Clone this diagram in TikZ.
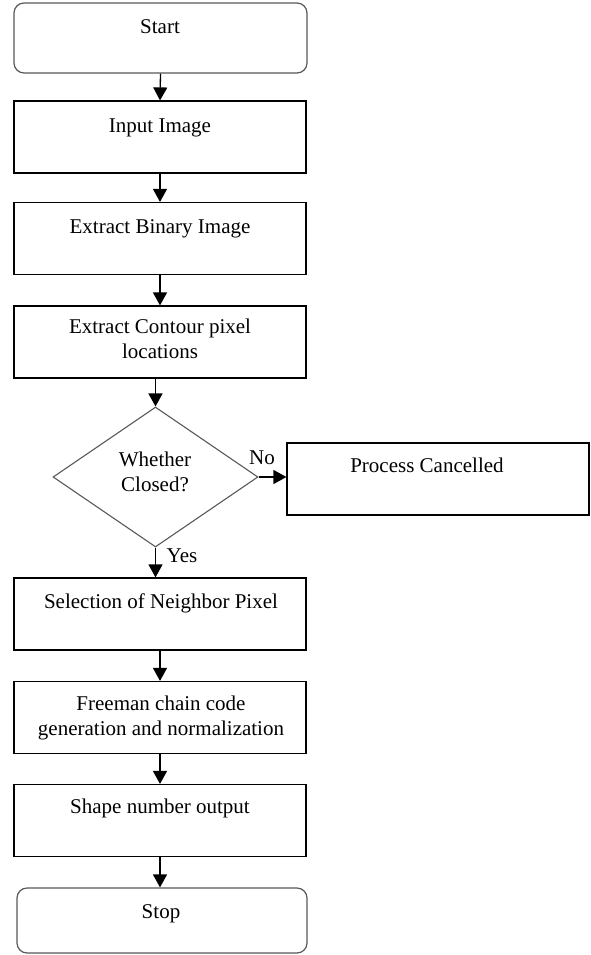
\documentclass[tikz,border=0pt]{standalone}
\usepackage{fontspec}
\setmainfont{Liberation Serif}
\usetikzlibrary{shapes.geometric,arrows.meta}
\begin{document}
\begin{tikzpicture}[x=1pt,y=-1pt,
  every node/.style={font=\fontsize{21}{24.5}\selectfont},
  procbox/.style={draw=black, line width=1.2pt, rectangle, minimum width=292pt, minimum height=72pt, inner sep=0pt},
  termbox/.style={draw=black!65, line width=1.2pt, rectangle, rounded corners=10pt, inner sep=0pt},
  decbox/.style={draw=black!65, line width=1.1pt, diamond, inner sep=0pt, minimum width=205pt, minimum height=140pt},
  lbl/.style={inner sep=0pt, align=center, anchor=base},
  flow/.style={line width=1.3pt, -{Triangle[width=14pt,length=13pt]}}]
\useasboundingbox (0,0) rectangle (590,955);
\fill[white] (0,0) rectangle (590,955);

% boxes
\node[termbox, minimum width=293pt, minimum height=70pt] (start) at (160.5,38) {};
\node[procbox] (input) at (160,137) {};
\node[procbox] (binary) at (160,238.5) {};
\node[procbox] (contour) at (160,342) {};
\node[decbox] (closed) at (155.5,477) {};
\node[procbox, minimum width=302pt] (cancel) at (438,479) {};
\node[procbox] (select) at (160,614) {};
\node[procbox] (freeman) at (160,717.5) {};
\node[procbox] (shape) at (160,820.5) {};
\node[termbox, minimum width=290pt, minimum height=65pt] (stop) at (162,920.5) {};

% texts (base anchor: last line's baseline)
\node[lbl] (tstart) at (160,34) {Start};
\node[lbl] (tinput) at (160,132) {Input Image};
\node[lbl] (tbinary) at (160,233) {Extract Binary Image};
\node[lbl] (tcontour) at (160,358) {Extract Contour pixel\\locations};
\node[lbl] (tclosed) at (155,491) {Whether\\Closed?};
\node[lbl] (tcancel) at (427,472) {Process Cancelled};
\node[lbl] (tselect) at (161,608) {Selection of Neighbor Pixel};
\node[lbl] (tfreeman) at (161,735) {Freeman chain code\\generation and normalization};
\node[lbl] (tshape) at (160,813) {Shape number output};
\node[lbl] (tstop) at (161,918) {Stop};

% connectors
\draw[flow] (start.south) -- (input.north);
\draw[flow] (input.south) -- (binary.north);
\draw[flow] (binary.south) -- (contour.north);
\draw[flow] (closed.north |- contour.south) -- (closed.north);
\draw[flow] (closed.east) -- (cancel.west |- closed.east);
\draw[flow] (closed.south) -- (closed.south |- select.north);
\draw[flow] (select.south) -- (freeman.north);
\draw[flow] (freeman.south) -- (shape.north);
\draw[flow] (shape.south) -- (shape.south |- stop.north);

% branch labels
\node[lbl] (lno) at (262,464) {No};
\node[lbl] (lyes) at (182,562) {Yes};
\end{tikzpicture}
\end{document}
